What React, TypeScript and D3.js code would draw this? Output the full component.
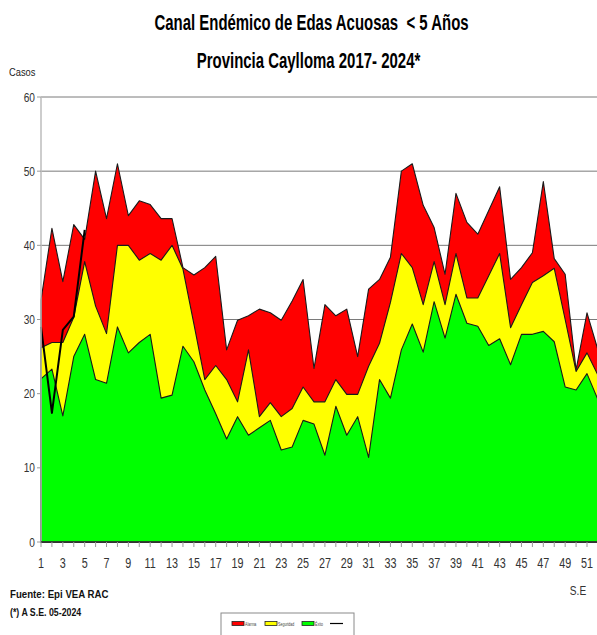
import React from "react";
import * as d3 from "d3";

const weeks = d3.range(1, 53);
const alarma = [32.6, 42.3, 35.1, 42.8, 40.8, 50.0, 43.6, 51.0, 44.0, 46.0, 45.5, 43.6, 43.6, 37.0, 36.0, 37.0, 38.5, 25.9, 29.9, 30.5, 31.4, 30.9, 29.9, 32.5, 35.4, 23.4, 32.0, 30.5, 31.4, 25.0, 34.1, 35.4, 38.4, 50.0, 51.0, 45.4, 42.4, 36.1, 47.0, 43.1, 41.5, 44.7, 47.9, 35.4, 37.0, 39.0, 48.6, 38.2, 36.1, 23.2, 30.9, 25.9];
const seguridad = [26.2, 26.9, 26.9, 30.3, 37.8, 31.8, 28.1, 40.0, 40.0, 38.0, 38.9, 38.0, 40.0, 36.8, 29.4, 21.9, 23.8, 21.9, 18.9, 25.9, 16.9, 18.8, 16.9, 18.0, 20.9, 18.9, 18.9, 21.9, 19.9, 19.9, 23.7, 26.8, 32.3, 38.9, 37.0, 32.0, 37.8, 32.0, 38.9, 32.9, 32.9, 35.9, 38.9, 28.9, 32.0, 35.0, 35.9, 36.9, 30.0, 23.0, 25.5, 22.5];
const exito = [22.0, 23.3, 17.0, 25.0, 28.0, 21.9, 21.4, 29.0, 25.5, 26.9, 28.0, 19.4, 19.8, 26.4, 24.3, 20.5, 17.3, 13.9, 16.9, 14.4, 15.4, 16.4, 12.4, 12.8, 16.4, 15.9, 11.7, 18.3, 14.4, 16.9, 11.4, 21.9, 19.4, 25.9, 29.4, 25.6, 32.4, 27.5, 33.4, 29.5, 29.1, 26.5, 27.4, 23.9, 28.0, 28.0, 28.4, 27.0, 20.9, 20.5, 22.7, 19.2];
const casos2024 = [29.0, 17.4, 28.6, 30.4, 42.1];
const yTicks = [0, 10, 20, 30, 40, 50, 60];
const xLabels = d3.range(1, 53, 2);
const legendItems = [
  { label: "Alarma", color: "#ff0000" },
  { label: "Seguridad", color: "#ffff00" },
  { label: "Éxito", color: "#00ff00" },
];

const FONT = "'Liberation Sans', Arial, sans-serif";

function NText(props: {
  x: number;
  y: number;
  sx?: number;
  size: number;
  anchor?: string;
  weight?: string;
  fill?: string;
  children: React.ReactNode;
}) {
  const { x, y, sx = 0.78, size, anchor = "start", weight = "normal", fill = "#333", children } = props;
  return (
    <text
      transform={`translate(${x},${y}) scale(${sx},1)`}
      fontSize={size}
      textAnchor={anchor}
      fontWeight={weight}
      fill={fill}
    >
      {children}
    </text>
  );
}

export default function App() {
  const x = d3.scaleLinear().domain([1, 52]).range([41, 41 + 51 * 10.92]);
  const y = d3.scaleLinear().domain([0, 60]).range([542, 97]);

  const area = (vals: number[]) =>
    d3
      .area<number>()
      .x((_, i) => x(weeks[i]))
      .y0(y(0))
      .y1((d) => y(d))(vals) as string;

  const line = d3
    .line<number>()
    .x((_, i) => x(weeks[i]))
    .y((d) => y(d))(casos2024) as string;

  return (
    <svg
      width={597}
      height={635}
      style={{ position: "absolute", left: 0, top: 0, background: "#fff" }}
      fontFamily={FONT}
    >
      <rect x={0} y={0} width={597} height={635} fill="#fff" />
      <NText x={311.5} y={30} size={22} sx={0.68} anchor="middle" weight="bold" fill="#000">
        {"Canal Endémico de Edas Acuosas \u00a0< 5 Años"}
      </NText>
      <NText x={308.5} y={68} size={22} sx={0.68} anchor="middle" weight="bold" fill="#000">
        {"Provincia Caylloma 2017- 2024*"}
      </NText>
      <NText x={9} y={76} size={11} sx={0.85} fill="#222">Casos</NText>

      {/* gridlines */}
      {yTicks.filter((t) => t > 0).map((t) => (
        <line key={t} x1={41} x2={597} y1={y(t)} y2={y(t)} stroke="#7a7a7a" strokeWidth={1} />
      ))}

      {/* areas */}
      <path d={area(alarma)} fill="#ff0000" stroke="#1a1a1a" strokeWidth={1.1} strokeLinejoin="round" />
      <path d={area(seguridad)} fill="#ffff00" stroke="#1a1a1a" strokeWidth={1.1} strokeLinejoin="round" />
      <path d={area(exito)} fill="#00ff00" stroke="#1a1a1a" strokeWidth={1.1} strokeLinejoin="round" />
      <path d={line} fill="none" stroke="#000" strokeWidth={2} strokeLinejoin="round" />

      {/* y axis */}
      <line x1={41} x2={41} y1={y(60)} y2={y(0)} stroke="#bdbdbd" strokeWidth={1.5} />
      {yTicks.map((t) => (
        <g key={t}>
          <line x1={37} x2={41} y1={y(t)} y2={y(t)} stroke="#9a9a9a" />
          <NText x={35} y={y(t) + 4.5} size={13} anchor="end">{t}</NText>
        </g>
      ))}

      {/* x axis */}
      <line x1={41} x2={597} y1={y(0)} y2={y(0)} stroke="#333" strokeWidth={1.5} />
      {weeks.map((w) => (
        <line key={w} x1={x(w)} x2={x(w)} y1={y(0)} y2={y(0) + 5} stroke="#9a9a9a" />
      ))}
      {xLabels.map((w) => (
        <NText key={w} x={x(w)} y={568} size={15} sx={0.72} anchor="middle">{w}</NText>
      ))}
      <NText x={578} y={595} size={13} anchor="middle">S.E</NText>

      <NText x={10} y={598} size={11} sx={0.88} weight="bold" fill="#111">Fuente: Epi VEA RAC</NText>
      <NText x={10} y={616} size={11} sx={0.8} weight="bold" fill="#111">(*) A S.E. 05-2024</NText>

      {/* legend */}
      <rect x={221} y={613} width={133} height={30} fill="#fff" stroke="#8a8a8a" strokeWidth={1} />
      {legendItems.map((it, i) => {
        const lx = [232, 265, 302][i];
        return (
          <g key={it.label}>
            <rect x={lx} y={621.5} width={12} height={4} fill={it.color} stroke="#222" strokeWidth={0.8} />
            <NText x={lx + 13} y={625.5} size={4.5} sx={0.8} fill="#444">{it.label}</NText>
          </g>
        );
      })}
      <line x1={330} x2={343} y1={623.5} y2={623.5} stroke="#000" strokeWidth={1.2} />
    </svg>
  );
}
